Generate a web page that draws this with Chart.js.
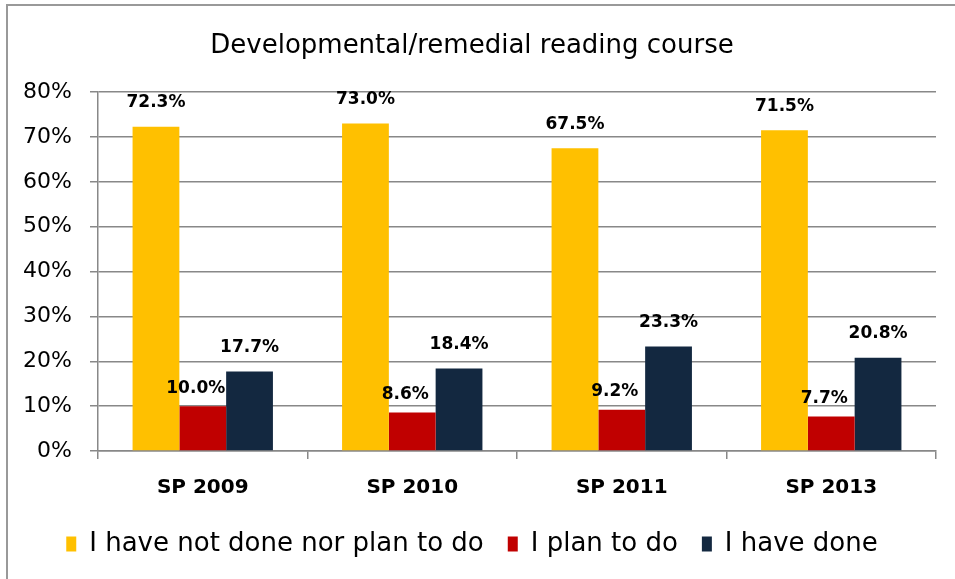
<!DOCTYPE html>
<html>
<head>
<meta charset="utf-8">
<script src="https://cdn.jsdelivr.net/npm/chart.js@4"></script>
<style>
  html, body { margin: 0; padding: 0; background: #fff; overflow: hidden; }
  #frame {
    position: absolute; left: 6px; top: 4px;
    width: 960px; height: 590px;
    border-top: 2px solid #999; border-left: 2px solid #999;
  }
  #wrap { position: absolute; left: 0; top: 0; width: 947px; height: 575px; }
</style>
</head>
<body>
<div id="frame"><div id="wrap"><canvas id="myChart"></canvas></div></div>
<script>
const TITLE = 'Developmental/remedial reading course';
const categories = ['SP 2009', 'SP 2010', 'SP 2011', 'SP 2013'];
const seriesNames = ['I have not done nor plan to do', 'I plan to do', 'I have done'];
const notDone = [72.3, 73.0, 67.5, 71.5];
const planTo = [10.0, 8.6, 9.2, 7.7];
const haveDone = [17.7, 18.4, 23.3, 20.8];
const yTicks = [0, 10, 20, 30, 40, 50, 60, 70, 80];

const COLORS = ['#FFC000', '#C00000', '#132840'];
const FONT = '"DejaVu Sans", sans-serif';

// label offsets per series (dx, dy above bar top)
const labelShift = [[0, 24], [-7, 18], [0, 24]];

const valueLabels = {
  id: 'valueLabels',
  afterDatasetsDraw(chart) {
    const ctx = chart.ctx;
    ctx.save();
    ctx.font = 'bold 17px ' + FONT;
    ctx.fillStyle = '#000';
    ctx.textAlign = 'center';
    ctx.textBaseline = 'middle';
    chart.data.datasets.forEach((ds, i) => {
      const meta = chart.getDatasetMeta(i);
      meta.data.forEach((bar, j) => {
        const s = labelShift[i];
        ctx.fillText(ds.data[j].toFixed(1) + '%', bar.x + s[0], bar.y - s[1]);
      });
    });
    ctx.restore();
  }
};

let data = {
  labels: categories,
  datasets: [notDone, planTo, haveDone].map((vals, i) => ({
    label: seriesNames[i],
    data: vals,
    backgroundColor: COLORS[i],
    borderWidth: 0,
    barPercentage: 1,
    categoryPercentage: 0.67
  }))
};

var ctx = document.getElementById('myChart');
var chart = new Chart(ctx, {
  type: 'bar',
  data: data,
  plugins: [valueLabels],
  options: {
    responsive: true,
    maintainAspectRatio: false,
    animation: false,
    layout: { padding: { left: 0, right: 19, top: 10, bottom: 14 } },
    plugins: {
      title: {
        display: true,
        text: TITLE,
        color: '#000',
        font: { family: FONT, size: 26, weight: 'normal' },
        padding: { top: 15, bottom: 30 }
      },
      legend: {
        position: 'bottom',
        labels: {
          color: '#000',
          font: { family: FONT, size: 26 },
          boxWidth: 10,
          boxHeight: 15,
          padding: 24
        }
      },
      tooltip: { enabled: false }
    },
    scales: {
      x: {
        grid: { display: true, drawOnChartArea: false, offset: true, color: '#888', lineWidth: 1.5, tickLength: 8 },
        border: { color: '#888', width: 1.5 },
        ticks: { color: '#000', font: { family: FONT, size: 20, weight: 'bold' }, padding: 17 },
        afterFit: (axis) => { axis.height = 56; }
      },
      y: {
        min: 0,
        max: 80,
        afterBuildTicks: (axis) => { axis.ticks = yTicks.map(v => ({ value: v })); },
        afterFit: (axis) => { axis.width = 90; },
        grid: { color: '#888', lineWidth: 1.5, tickLength: 8 },
        border: { color: '#888', width: 1.5 },
        ticks: {
          color: '#000',
          font: { family: FONT, size: 22 },
          padding: 18,
          callback: (v) => v + '%'
        }
      }
    }
  }
});
</script>
</body>
</html>
